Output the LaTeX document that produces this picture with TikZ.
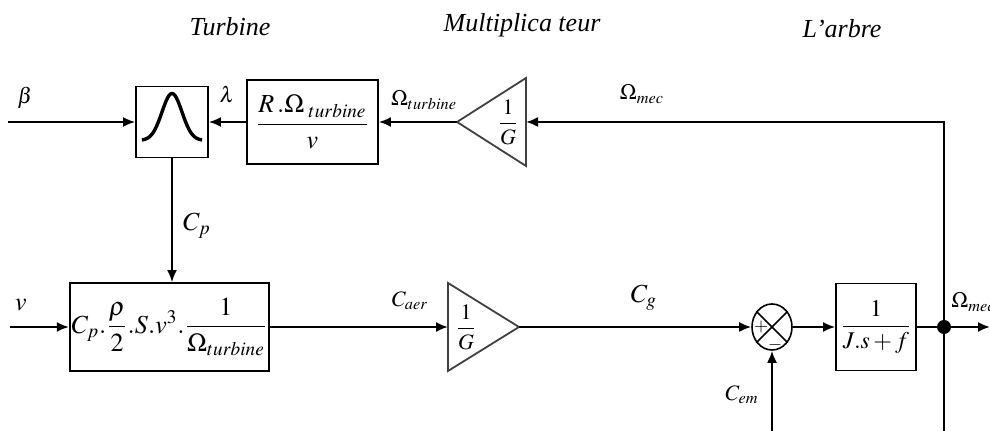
\documentclass[tikz,border=0pt]{standalone}
\usepackage{amsmath}
\usepackage{mathptmx}
\usepackage{fontspec}
\setmainfont{Liberation Serif}
\usetikzlibrary{arrows.meta,shapes.geometric}

\tikzset{
  blk/.style={draw, line width=0.9pt, inner sep=1pt},
  bigtxt/.style={font=\fontsize{13}{15}\selectfont},
  gainline/.style={draw=black!75, line width=0.9pt},
  wire/.style={line width=1pt},
  arr/.style={wire, -{Latex[length=6pt,width=5pt]}},
  lbl/.style={inner sep=0pt},
  ttl/.style={inner sep=0pt, font=\fontsize{13}{15}\selectfont\itshape}
}

\begin{document}
\begin{tikzpicture}[x=0.5pt, y=-0.5pt, font=\fontsize{11}{13}\selectfont]
\useasboundingbox (0,0) rectangle (990,431);

% titres
\node[ttl] (tTurb) at (230,27) {Turbine};
\node[ttl] (tMult) at (522,25) {Multiplica teur};
\node[ttl] (tArbre) at (842,29) {L'arbre};

% ligne du haut
\node[blk, minimum width=36pt, minimum height=35.5pt] (bell) at (172,122) {};
\draw[line width=1.7pt, shift={(bell.center)}]
  plot[domain=-30:30, samples=41, smooth] (\x, {18.5-47*exp(-(\x*\x)/200)});
\node[blk, bigtxt, minimum width=65.5pt, minimum height=42pt] (rblk) at (312.5,122)
  {$\dfrac{R\,.\Omega_{\;turbine}}{v}$};

\coordinate (multT) at (457,122);
\coordinate (multB) at (526,122);
\draw[gainline] (multT) -- (526,78) -- (526,166) -- cycle;
\node[lbl] (multG) at (508,122) {$\dfrac{1}{G}$};

% ligne du bas
\node[blk, bigtxt, minimum width=98.5pt, minimum height=44pt] (aero) at (169.5,327)
  {$C_p.\dfrac{\rho}{2}.S.v^3.\dfrac{1}{\Omega_{turbine}}$};

\coordinate (gainB) at (448,327);
\coordinate (gainT) at (519,327);
\draw[gainline] (gainB) -- (448,283) -- (gainT) -- (448,371) -- cycle;
\node[lbl] (gainG) at (466,327) {$\dfrac{1}{G}$};

\node[draw, ellipse, line width=0.8pt, minimum width=20pt, minimum height=23pt, inner sep=0pt] (sum) at (772,327) {};
\draw[line width=0.8pt] (sum.135) -- (sum.-45);
\draw[line width=0.8pt] (sum.45) -- (sum.-135);
\node[lbl, font=\small] (plus) at (761,327) {$+$};
\node[lbl, font=\small] (minus) at (775,345) {$-$};

\node[blk, font=\fontsize{12}{14}\selectfont, minimum width=40pt, minimum height=43.5pt] (jblk) at (876,327)
  {$\dfrac{1}{J.s+f}$};

\coordinate (junc) at (944,327);
\coordinate (betaIn) at (8,122);
\coordinate (vIn) at (10,327);
\coordinate (cemIn) at (772,431);
\coordinate (shaftEnd) at (944,431);
\coordinate (out) at (990,327);

% liaisons
\draw[arr] (betaIn) -- (bell.west);
\draw[arr] (rblk.west) -- (bell.east);
\draw[arr] (multT) -- (rblk.east);
\draw[arr] (junc) |- (multB);
\draw[arr] (bell.south) -- (bell.south |- aero.north);
\draw[arr] (vIn) -- (aero.west);
\draw[arr] (aero.east) -- (gainB);
\draw[arr] (gainT) -- (sum.west);
\draw[arr] (cemIn) -- (sum.south);
\draw[arr] (sum.east) -- (jblk.west);
\draw[wire] (jblk.east) -- (junc);
\draw[arr] (junc) -- (out);
\draw[wire] (junc) -- (shaftEnd);
\fill (junc) circle (3.5pt);

% etiquettes
\node[lbl] (beta) at (25,98) {$\beta$};
\node[lbl] (lambda) at (227,95) {$\lambda$};
\node[lbl] (omTurb) at (424,100) {$\Omega_{turbine}$};
\node[lbl] (omMec) at (642,94) {$\Omega_{mec}$};
\node[lbl, bigtxt] (cp) at (197,226) {$C_p$};
\node[lbl, bigtxt] (v) at (21,305) {$v$};
\node[lbl] (caer) at (410,301) {$C_{aer}$};
\node[lbl, bigtxt] (cg) at (644,298) {$C_g$};
\node[lbl] (cem) at (742,395) {$C_{em}$};
\node[lbl, anchor=west] (omOut) at (951,302) {$\Omega_{mec}$};

\end{tikzpicture}
\end{document}
